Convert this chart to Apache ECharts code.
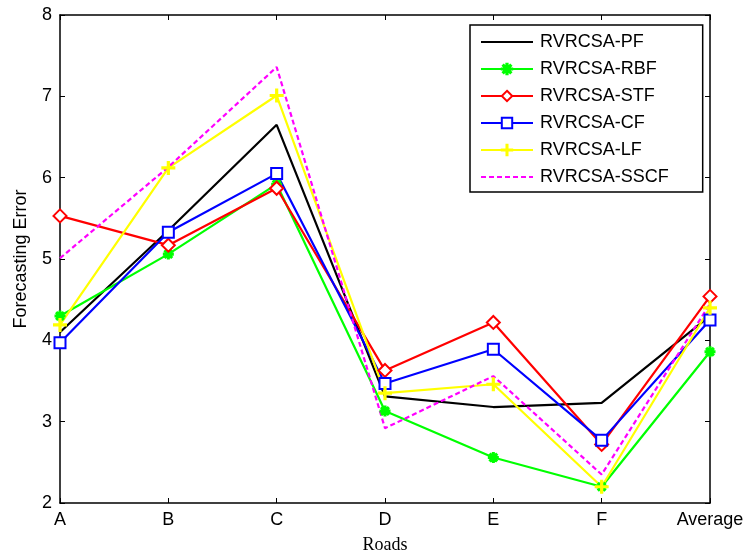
<!DOCTYPE html>
<html>
<head>
<meta charset="utf-8">
<script src="https://cdn.jsdelivr.net/npm/echarts@6/dist/echarts.min.js"></script>
<style>
  html, body { margin: 0; padding: 0; background: #fff; }
  #chart { width: 751px; height: 555px; }
</style>
</head>
<body>
<div id="chart"></div>
<script>
var roads = ['A', 'B', 'C', 'D', 'E', 'F', 'Average'];
var yTicks = [2, 3, 4, 5, 6, 7, 8];

var pf   = [4.10, 5.35, 6.65, 3.31, 3.18, 3.23, 4.30];
var rbf  = [4.30, 5.06, 5.92, 3.13, 2.56, 2.20, 3.86];
var stf  = [5.53, 5.17, 5.87, 3.63, 4.22, 2.72, 4.54];
var cf   = [3.97, 5.33, 6.05, 3.47, 3.89, 2.77, 4.25];
var lf   = [4.19, 6.12, 7.01, 3.35, 3.46, 2.20, 4.40];
var sscf = [5.01, 6.13, 7.36, 2.92, 3.56, 2.35, 4.45];

var plusPath = 'path://M-1,-10L1,-10L1,-1L10,-1L10,1L1,1L1,10L-1,10L-1,1L-10,1L-10,-1L-1,-1Z';
var starPath = 'path://M-1.2,-10L1.2,-10L1.2,-1.2L10,-1.2L10,1.2L1.2,1.2L1.2,10L-1.2,10L-1.2,1.2L-10,1.2L-10,-1.2L-1.2,-1.2Z' +
  'M-7.9,-6.2L-6.2,-7.9L0,-1.7L6.2,-7.9L7.9,-6.2L1.7,0L7.9,6.2L6.2,7.9L0,1.7L-6.2,7.9L-7.9,6.2L-1.7,0Z';

function mk(name, data, color, symbol, size, dashed) {
  return {
    name: name,
    type: 'line',
    data: data,
    symbol: symbol,
    symbolSize: size,
    showSymbol: true,
    lineStyle: { color: color, width: 2.2, type: dashed ? [5, 3] : 'solid' },
    itemStyle: { color: color, borderColor: color, borderWidth: 2 },
    emphasis: { disabled: true },
    animation: false
  };
}

var chart = echarts.init(document.getElementById('chart'));
var axisFont = { fontFamily: 'Liberation Sans, Arial', fontSize: 18, color: '#000' };

var legendNames = ['RVRCSA-PF', 'RVRCSA-RBF', 'RVRCSA-STF', 'RVRCSA-CF', 'RVRCSA-LF', 'RVRCSA-SSCF'];
var legendData = legendNames.map(function (n) {
  // plain line icons for the two series that have no markers
  if (n === 'RVRCSA-PF' || n === 'RVRCSA-SSCF') {
    return { name: n, itemStyle: { opacity: 0 } };
  }
  return { name: n };
});

chart.setOption({
  backgroundColor: '#fff',
  grid: { left: 60, right: 41, top: 15, bottom: 52, outerBoundsMode: 'none' },
  legend: {
    orient: 'vertical',
    left: 470,
    top: 25,
    padding: [8, 34, 6, 10],
    itemGap: 9,
    itemWidth: 52,
    itemHeight: 13,
    borderColor: '#000',
    borderWidth: 1.5,
    backgroundColor: '#fff',
    textStyle: { fontFamily: 'Liberation Sans, Arial', fontSize: 18, color: '#000', padding: [0, 0, 0, 2] },
    data: legendData
  },
  xAxis: [{
    type: 'category',
    data: roads,
    boundaryGap: false,
    name: 'Roads',
    nameLocation: 'middle',
    nameGap: 33,
    nameTextStyle: { fontFamily: 'Liberation Serif, Times New Roman', fontSize: 18, color: '#000' },
    axisLine: { lineStyle: { color: '#000', width: 1.5 } },
    axisTick: { inside: true, length: 5, lineStyle: { color: '#000' } },
    axisLabel: axisFont,
    splitLine: { show: false }
  }, {
    type: 'category',
    data: roads,
    boundaryGap: false,
    position: 'top',
    axisLine: { lineStyle: { color: '#000', width: 1.5 } },
    axisTick: { inside: true, length: 5, lineStyle: { color: '#000' } },
    axisLabel: { show: false },
    splitLine: { show: false }
  }],
  yAxis: [{
    type: 'value',
    min: yTicks[0],
    max: yTicks[yTicks.length - 1],
    interval: 1,
    name: 'Forecasting Error',
    nameLocation: 'middle',
    nameGap: 30,
    nameTextStyle: { fontFamily: 'Liberation Sans, Arial', fontSize: 18, color: '#000' },
    axisLine: { show: true, lineStyle: { color: '#000', width: 1.5 } },
    axisTick: { show: true, inside: true, length: 5, lineStyle: { color: '#000' } },
    axisLabel: axisFont,
    splitLine: { show: false }
  }, {
    type: 'value',
    min: yTicks[0],
    max: yTicks[yTicks.length - 1],
    interval: 1,
    position: 'right',
    axisLine: { show: true, lineStyle: { color: '#000', width: 1.5 } },
    axisTick: { show: true, inside: true, length: 5, lineStyle: { color: '#000' } },
    axisLabel: { show: false },
    splitLine: { show: false }
  }],
  series: [
    mk('RVRCSA-PF', pf, '#000000', 'none', 0, false),
    mk('RVRCSA-RBF', rbf, '#00ff00', starPath, 9, false),
    mk('RVRCSA-STF', stf, '#ff0000', 'emptyDiamond', 13, false),
    mk('RVRCSA-CF', cf, '#0000ff', 'emptyRect', 11, false),
    mk('RVRCSA-LF', lf, '#ffff00', plusPath, 12, false),
    mk('RVRCSA-SSCF', sscf, '#ff00ff', 'none', 0, true)
  ]
});
</script>
</body>
</html>
